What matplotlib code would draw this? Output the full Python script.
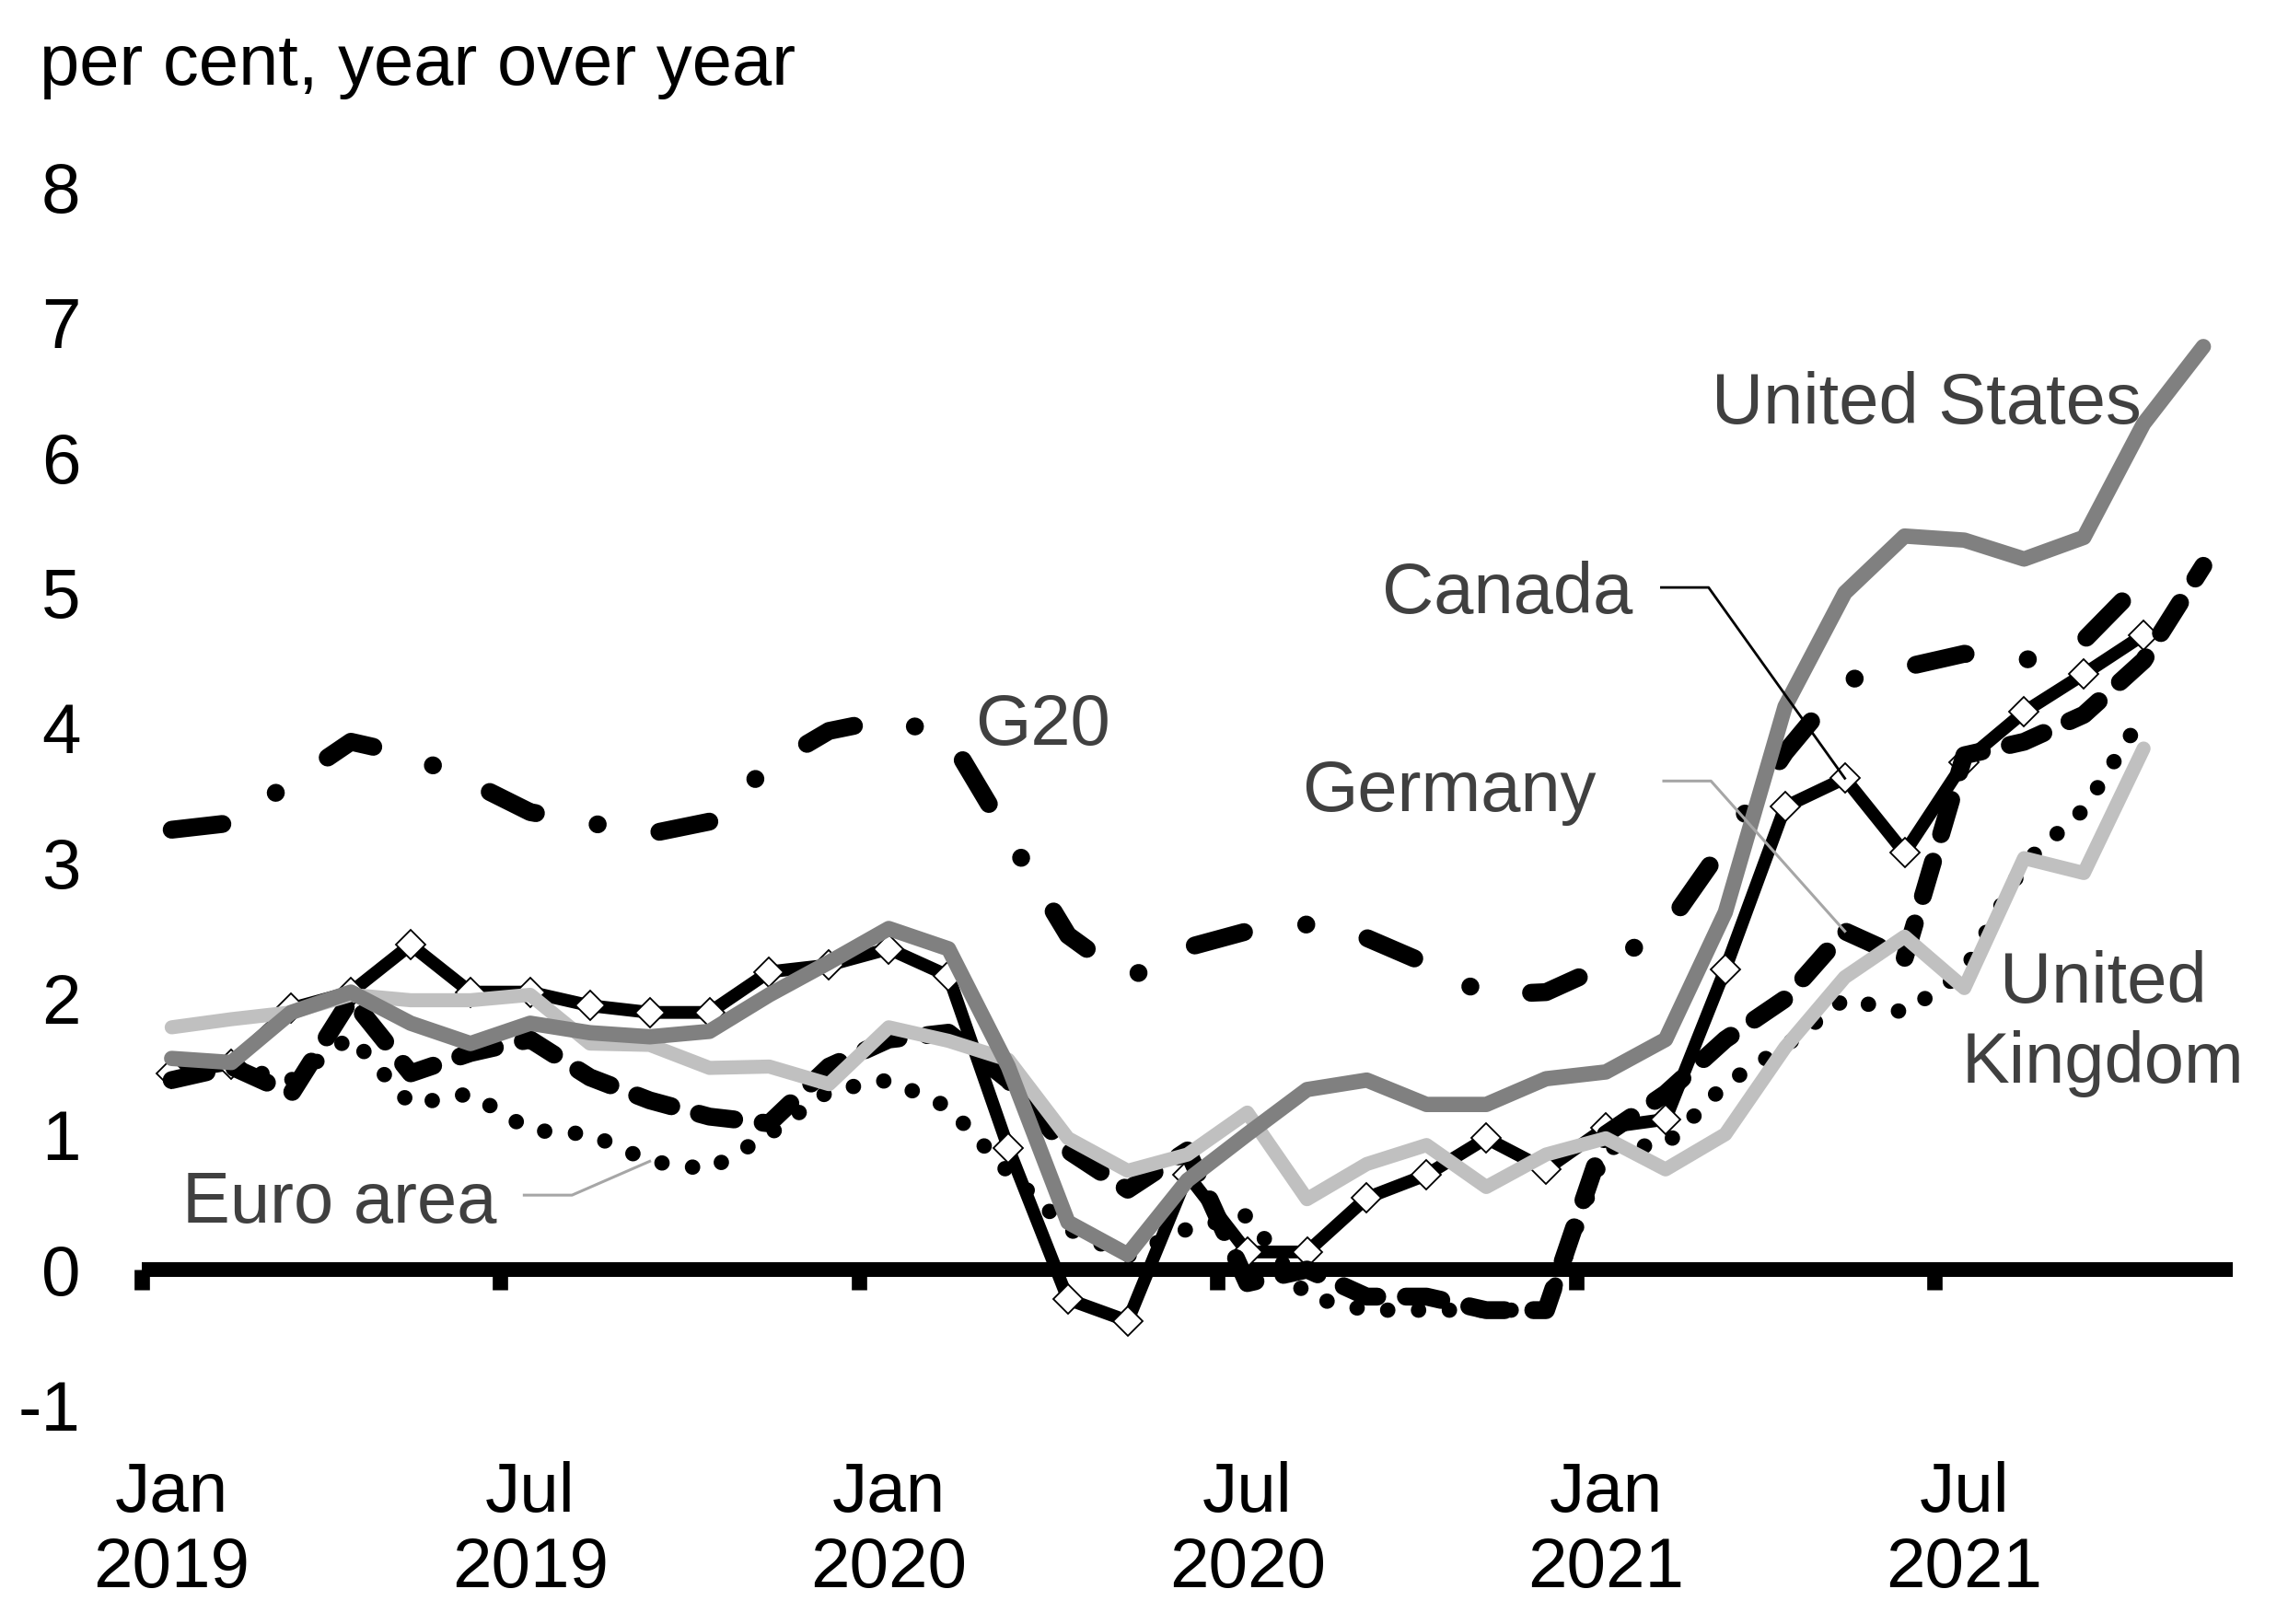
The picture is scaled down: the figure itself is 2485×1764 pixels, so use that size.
import matplotlib
matplotlib.use("Agg")
import matplotlib.pyplot as plt
import numpy as np

# ---------------- data ----------------
months = [f"{y}-{m:02d}" for y in (2019, 2020, 2021) for m in range(1, 13)][:35]
tick_positions = [0, 6, 12, 18, 24, 30]
tick_labels = ["Jan\n2019", "Jul\n2019", "Jan\n2020", "Jul\n2020", "Jan\n2021", "Jul\n2021"]
y_ticks = [-1, 0, 1, 2, 3, 4, 5, 6, 7, 8]

canada = [1.45, 1.52, 1.93, 2.05, 2.40, 2.05, 2.05, 1.95, 1.90, 1.90, 2.20, 2.25,
          2.37, 2.17, 0.90, -0.22, -0.38, 0.70, 0.13, 0.13, 0.53, 0.70, 0.97, 0.74,
          1.05, 1.11, 2.22, 3.42, 3.63, 3.08, 3.75, 4.12, 4.40, 4.69]
united_states = [1.56, 1.53, 1.90, 2.05, 1.82, 1.67, 1.82, 1.75, 1.72, 1.76, 2.03, 2.27,
                 2.52, 2.37, 1.50, 0.35, 0.11, 0.66, 1.00, 1.33, 1.40, 1.22, 1.22, 1.41,
                 1.46, 1.70, 2.64, 4.16, 5.00, 5.42, 5.39, 5.25, 5.41, 6.25, 6.82]
united_kingdom = [1.79, 1.85, 1.90, 2.03, 1.99, 1.99, 2.03, 1.67, 1.66, 1.49, 1.50, 1.37,
                  1.79, 1.69, 1.55, 0.97, 0.73, 0.85, 1.16, 0.52, 0.78, 0.92, 0.61, 0.85,
                  0.97, 0.74, 1.00, 1.64, 2.16, 2.46, 2.08, 3.04, 2.93, 3.85]
euro_area = [1.40, 1.50, 1.40, 1.72, 1.22, 1.30, 1.03, 1.00, 0.80, 0.74, 1.00, 1.32,
             1.40, 1.20, 0.72, 0.30, 0.10, 0.30, 0.40, -0.20, -0.30, -0.30, -0.30, -0.30,
             0.90, 0.92, 1.37, 1.65, 2.00, 1.90, 2.20, 3.00, 3.40, 4.10]
germany = [1.40, 1.50, 1.30, 2.00, 1.45, 1.60, 1.70, 1.42, 1.25, 1.13, 1.08, 1.50,
           1.70, 1.75, 1.40, 0.88, 0.59, 0.88, -0.10, 0.00, -0.20, -0.20, -0.30, -0.30,
           1.00, 1.30, 1.70, 2.00, 2.50, 2.30, 3.80, 3.90, 4.10, 4.50, 5.20]
g20 = [3.25, 3.30, 3.60, 3.90, 3.80, 3.60, 3.38, 3.30, 3.22, 3.31, 3.72, 3.98,
       4.07, 3.94, 3.20, 2.47, 2.15, 2.38, 2.50, 2.55, 2.45, 2.26, 2.03, 2.05,
       2.25, 2.52, 3.15, 3.82, 4.35, 4.45, 4.55, 4.50, 4.65, 5.10]

# ---------------- style ----------------
plt.rcParams["font.family"] = ["Liberation Sans", "DejaVu Sans"]
plt.rcParams["axes.unicode_minus"] = False
FS_TICK = 55
FS_LAB = 56
TXT = "#404040"

W, H = 2485, 1764
fig = plt.figure(figsize=(W / 100, H / 100), dpi=100)
ax = fig.add_axes([154 / W, 1 - 1526 / H, (2425.5 - 154) / W, (1526 - 203) / H])
ax.set_xlim(-0.5, len(months) - 0.5)
ax.set_ylim(-1, 8)


def xs(series):
    return np.arange(len(series))


# G20 : long dash - dot
ax.plot(xs(g20), g20, color="black", lw=14, linestyle=(0, (2.85, 3.5, 0.01, 3.5)),
        dash_capstyle="round", dash_joinstyle="round", zorder=2)
# Euro area : round dots
ax.plot(xs(euro_area), euro_area, color="black", lw=12, linestyle=(0, (0.01, 2.0)),
        dash_capstyle="round", dash_joinstyle="round", zorder=3)
# Canada : solid black with white diamonds
ax.plot(xs(canada), canada, color="black", lw=10, marker="D", markersize=16.5,
        markerfacecolor="white", markeredgecolor="black", markeredgewidth=1.3,
        solid_joinstyle="round", solid_capstyle="round", zorder=4)
# Germany : long dashes
ax.plot(xs(germany), germany, color="black", lw=14, linestyle=(0, (2.0, 1.6)),
        dash_capstyle="round", dash_joinstyle="round", zorder=5)
# United Kingdom : light grey
ax.plot(xs(united_kingdom), united_kingdom, color="#C0C0C0", lw=11,
        solid_joinstyle="round", solid_capstyle="round", zorder=6)
# United States : mid grey
ax.plot(xs(united_states), united_states, color="#808080", lw=12,
        solid_joinstyle="round", solid_capstyle="round", zorder=7)

# ---------------- axes ----------------
for s in ("left", "right", "top"):
    ax.spines[s].set_visible(False)
ax.spines["bottom"].set_position(("data", 0))
ax.spines["bottom"].set_linewidth(11.5)
ax.spines["bottom"].set_capstyle("butt")
ax.spines["bottom"].set_zorder(1)

ax.set_xticks(np.arange(-0.5, len(months) - 1, 6), labels=[""] * 6)
ax.set_xticks(tick_positions, labels=tick_labels, minor=True)
ax.tick_params(axis="x", which="major", length=16, width=12, direction="out", color="black")
ax.tick_params(axis="x", which="minor", length=0, pad=150, labelsize=FS_TICK, labelcolor="black")
ax.set_yticks(y_ticks, labels=[str(v) for v in y_ticks])
ax.tick_params(axis="y", length=0, pad=48, labelsize=FS_TICK, labelcolor="black")

fig.text(43 / W, 1 - 92 / H, "per cent, year over year", fontsize=FS_LAB, color="black",
         ha="left", va="baseline")

# ---------------- series labels ----------------
ax.text(25.77, 6.25, "United States", fontsize=FS_LAB, color=TXT, ha="left", va="baseline")
ax.text(20.26, 4.85, "Canada", fontsize=FS_LAB, color=TXT, ha="left", va="baseline")
ax.text(18.91, 3.39, "Germany", fontsize=FS_LAB, color=TXT, ha="left", va="baseline")
ax.text(13.45, 3.88, "G20", fontsize=FS_LAB, color=TXT, ha="left", va="baseline")
ax.text(0.18, 0.35, "Euro area", fontsize=FS_LAB, color=TXT, ha="left", va="baseline")
ax.text(32.32, 1.97, "United", fontsize=FS_LAB, color=TXT, ha="center", va="baseline")
ax.text(32.32, 1.38, "Kingdom", fontsize=FS_LAB, color=TXT, ha="center", va="baseline")

# leader lines
ax.plot([24.93, 25.72, 28], [5.04, 5.04, canada[28]], color="black", lw=2, zorder=8)
ax.plot([24.97, 25.76, 28], [3.61, 3.61, germany[28]], color="#A6A6A6", lw=2.2, zorder=8)
ax.plot([5.90, 6.70, 8], [0.55, 0.55, euro_area[8]], color="#A6A6A6", lw=2.2, zorder=8)

fig.savefig("out.png", dpi=100, facecolor="white")
